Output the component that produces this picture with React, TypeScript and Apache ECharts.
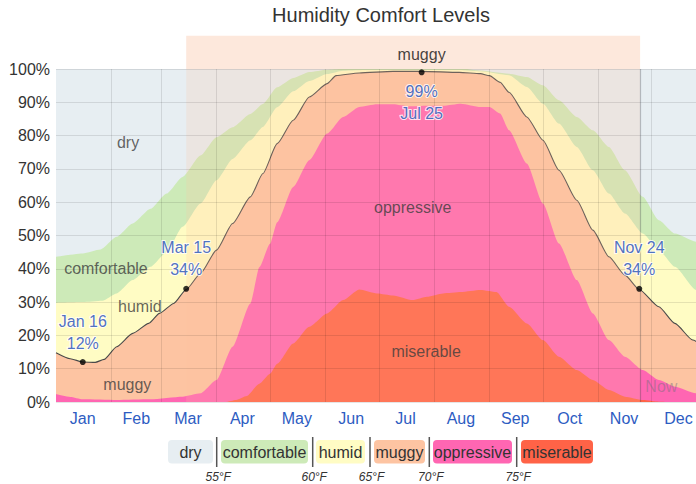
import React, { useEffect, useRef } from 'react';
import * as echarts from 'echarts';

const FONT = '"Liberation Sans", Arial, Helvetica, sans-serif';

const months = ['Jan', 'Feb', 'Mar', 'Apr', 'May', 'Jun', 'Jul', 'Aug', 'Sep', 'Oct', 'Nov', 'Dec'];
const monthStarts = [31, 59, 90, 120, 151, 181, 212, 243, 273, 304, 334];
const monthMids = [15, 45, 74, 104.5, 135, 165.5, 196, 227, 257.5, 288, 318.5, 349];
const yTicks = [0, 10, 20, 30, 40, 50, 60, 70, 80, 90, 100];

// cumulative share of hours (from the bottom) at each day of year
const dryTop: number[][] = [[0, 100], [365, 100]];
const comfortableTop: number[][] = [
  [0, 43.6], [15, 44.6], [25, 45.8], [34, 49.6], [43, 53.6], [53, 58], [62, 62.6], [71, 67.6],
  [81, 74], [90, 79.5], [99, 82.5], [109, 86.5], [116, 89.5], [124, 94.5], [133, 97.3],
  [142, 99.1], [152, 99.8], [160, 100], [230, 100], [236, 99.6], [254, 98.6], [264, 97.6],
  [273, 95.1], [282, 90.6], [292, 85.6], [301, 81.6], [310, 76.6], [319, 69.6], [329, 61.6],
  [338, 54.6], [347, 50.6], [359, 48.1], [365, 46],
];
const humidTop: number[][] = [
  [0, 29.8], [15, 30], [26, 30.4], [34, 32.6], [43, 36.6], [53, 40.6], [62, 45], [71, 52.6],
  [81, 59.6], [90, 66.6], [99, 73], [109, 78.6], [116, 82.6], [124, 88.5], [133, 93.3],
  [142, 96.4], [152, 98.5], [161, 99.5], [175, 99.7], [226, 99.7], [238, 99.3], [254, 98.1],
  [264, 94.6], [273, 89.6], [282, 83.6], [292, 76.6], [301, 69.6], [310, 62.6], [319, 56.6],
  [329, 50.6], [338, 45.6], [347, 40.6], [359, 33.6], [365, 31],
];
const muggyTop: number[][] = [
  [0, 14.8], [8, 13], [15, 12], [22, 11.9], [27, 12.8], [34, 16.6], [43, 20.6], [52, 23.6],
  [58, 26.6], [66, 29.6], [73, 33.8], [81, 38.6], [90, 45.6], [99, 53.6], [109, 61.6],
  [116, 68.6], [124, 77.6], [133, 84.6], [142, 91.6], [152, 95.6], [157, 98], [170, 98.8],
  [189, 99.3], [205, 99.3], [226, 99], [238, 98.6], [243, 98], [249, 96], [254, 93],
  [264, 85.6], [273, 78.6], [282, 69.6], [292, 60.6], [301, 51.6], [310, 43.6], [319, 38.1],
  [327, 33.8], [338, 28.6], [347, 23.6], [357, 18.6], [365, 15.5],
];
const oppressiveTop: number[][] = [
  [0, 2.4], [8, 1.5], [15, 0.8], [34, 0.6], [53, 0.8], [71, 1.6], [81, 2.6], [90, 6.6],
  [99, 16.6], [109, 29.6], [114, 40.5], [120, 47.5], [124, 54], [133, 64.6], [142, 72.6],
  [152, 80.6], [161, 85.6], [170, 88.6], [180, 89.4], [189, 89.4], [198, 88.8], [208, 89],
  [217, 89], [227, 89.6], [238, 88.6], [243, 88.6], [249, 86.6], [254, 81.6], [264, 71.6],
  [273, 59.6], [282, 47.6], [292, 36.6], [301, 26.6], [310, 18.6], [319, 13.6], [329, 9.6],
  [338, 6.6], [347, 4.6], [359, 2.6], [365, 2.4],
];
const miserableTop: number[][] = [
  [0, 0], [95, 0], [101, 0.6], [107, 1.8], [114, 5.5], [120, 8.5], [124, 11.5], [133, 17.6],
  [142, 22.6], [152, 26.6], [161, 30.6], [170, 33.8], [180, 32.6], [189, 32], [200, 30.6],
  [208, 31.6], [217, 32.6], [227, 33], [238, 33.6], [247, 33], [254, 28.6], [264, 23.6],
  [273, 18.6], [282, 13.6], [292, 9.6], [301, 6.6], [310, 3.6], [319, 1.6], [329, 0.6],
  [338, 0.1], [345, 0], [365, 0],
];

const muggyPeriod = [73, 327.5];
const nowDay = 327.5;

const annotations = [
  { day: 15, value: 12, date: 'Jan 16', below: false },
  { day: 73, value: 34, date: 'Mar 15', below: false },
  { day: 205, value: 99, date: 'Jul 25', below: true },
  { day: 327, value: 34, date: 'Nov 24', below: false },
];

const bandLabels = [
  { text: 'dry', day: 40.4, value: 77.8 },
  { text: 'comfortable', day: 28, value: 40 },
  { text: 'humid', day: 47, value: 28.8 },
  { text: 'muggy', day: 40, value: 5.4 },
  { text: 'oppressive', day: 200, value: 58.3 },
  { text: 'miserable', day: 207.5, value: 15.3 },
];
const periodLabel = { text: 'muggy', day: 205, value: 104.3 };
const nowLabel = { text: 'Now', day: 339.4, value: 4.8 };

const legendNames = ['dry', 'comfortable', 'humid', 'muggy', 'oppressive', 'miserable'];
const legendColors = ['#e7eef2', '#cdeab8', '#fffcc4', '#fdc4a2', '#ff66b2', '#ff6347'];
const tempLabels = ['55°F', '60°F', '65°F', '70°F', '75°F'];

// legend layout (pixels)
const legendBoxX = [168, 221, 316, 374, 433, 521];
const legendBoxW = [45, 87, 49, 51, 79, 72];
const legendSepX = [216.7, 312.7, 370, 429.3, 516.7];

function areaSeries(name: string, data: number[][], color: string, line?: string) {
  return {
    name,
    type: 'line',
    data,
    smooth: 0.2,
    smoothMonotone: 'x',
    symbol: 'none',
    silent: true,
    z: 2,
    lineStyle: line ? { color: line, width: 1.1 } : { width: 0 },
    areaStyle: { color, opacity: 1 },
  };
}

export default function App() {
  const ref = useRef<HTMLDivElement>(null);
  useEffect(() => {
    if (!ref.current) return;
    const chart = echarts.init(ref.current, undefined, { renderer: 'svg' });

    const graphic: any[] = [];
    legendNames.forEach((n, i) => {
      graphic.push({
        type: 'rect',
        shape: { x: legendBoxX[i], y: 440, width: legendBoxW[i], height: 23.5, r: 4 },
        style: { fill: legendColors[i] },
      });
      graphic.push({
        type: 'text',
        x: legendBoxX[i] + legendBoxW[i] / 2,
        y: 452,
        style: {
          text: n, fill: '#333', font: `16px ${FONT}`, align: 'center', verticalAlign: 'middle',
        },
      });
    });
    legendSepX.forEach((x, i) => {
      graphic.push({
        type: 'line',
        shape: { x1: x, y1: 437, x2: x, y2: 467 },
        style: { stroke: '#555', lineWidth: 1.5 },
      });
      graphic.push({
        type: 'text',
        x: x + 1.5,
        y: 477,
        style: {
          text: tempLabels[i], fill: '#333', font: `italic 12px ${FONT}`, align: 'center', verticalAlign: 'middle',
        },
      });
    });

    const option: any = {
      animation: false,
      title: {
        text: 'Humidity Comfort Levels',
        left: 381,
        top: 5,
        padding: 0,
        textAlign: 'center',
        textStyle: { fontSize: 20, fontWeight: 'normal', color: '#333', fontFamily: FONT },
      },
      grid: {
        left: 56, width: 651, top: 35.7, bottom: 82,
        containLabel: false, outerBoundsMode: 'none',
      },
      xAxis: {
        type: 'value',
        min: 0,
        max: 365,
        axisLine: { show: false },
        axisTick: { show: false },
        splitLine: { show: false },
        axisLabel: {
          customValues: monthMids,
          formatter: (v: number) => months[monthMids.indexOf(v)] ?? '',
          color: '#2d5cc2',
          fontSize: 16,
          fontFamily: FONT,
          margin: 8,
        },
      },
      yAxis: {
        type: 'value',
        min: 0,
        max: 110,
        interval: 10,
        axisLine: { show: false },
        axisTick: { show: false },
        splitLine: { show: false },
        axisLabel: {
          formatter: (v: number) => (v <= 100 ? `${v}%` : ''),
          color: '#333',
          fontSize: 16,
          fontFamily: FONT,
          margin: 6,
        },
      },
      graphic,
      series: [
        areaSeries('dry', dryTop, legendColors[0]),
        areaSeries('comfortable', comfortableTop, legendColors[1]),
        areaSeries('humid', humidTop, legendColors[2]),
        areaSeries('muggy', muggyTop, legendColors[3], '#4a4a4a'),
        areaSeries('oppressive', oppressiveTop, legendColors[4]),
        areaSeries('miserable', miserableTop, legendColors[5]),
        {
          type: 'line',
          data: [],
          z: 3,
          silent: true,
          markArea: {
            z: 3,
            silent: true,
            label: { show: false },
            data: [
              [
                { coord: [muggyPeriod[0], 0], itemStyle: { color: 'rgba(253,195,161,0.2)' } },
                { coord: [muggyPeriod[1], 100] },
              ],
              [
                { coord: [muggyPeriod[0], 100], itemStyle: { color: '#fde8dc' } },
                { coord: [muggyPeriod[1], 110] },
              ],
            ],
          },
        },
        {
          type: 'line',
          data: [],
          z: 4,
          silent: true,
          markLine: {
            z: 4,
            silent: true,
            symbol: 'none',
            label: { show: false },
            lineStyle: { color: 'rgba(0,0,0,0.1)', width: 1, type: 'solid' },
            data: [
              ...monthStarts.map((d) => [{ coord: [d, 0] }, { coord: [d, 100] }]),
              ...yTicks.map((v) => [{ coord: [0, v] }, { coord: [365, v] }]),
              [
                { coord: [nowDay, 0], lineStyle: { color: 'rgba(60,60,70,0.3)', width: 1.2 } },
                { coord: [nowDay, 100] },
              ],
            ],
          },
        },
        {
          type: 'scatter',
          z: 5,
          silent: true,
          symbolSize: 1,
          itemStyle: { color: 'rgba(0,0,0,0)' },
          data: [
            ...bandLabels.map((b) => ({
              value: [b.day, b.value],
              label: { formatter: b.text },
            })),
            {
              value: [periodLabel.day, periodLabel.value],
              label: { formatter: periodLabel.text, color: '#111' },
            },
            {
              value: [nowLabel.day, nowLabel.value],
              label: { formatter: nowLabel.text, color: 'rgba(110,110,120,0.55)' },
            },
          ],
          label: {
            show: true,
            position: 'inside',
            color: '#3d3d3d',
            fontSize: 16,
            fontFamily: FONT,
          },
        },
        {
          type: 'scatter',
          z: 6,
          silent: true,
          symbolSize: 6,
          itemStyle: { color: '#000' },
          data: annotations.map((a) => ({
            value: [a.day, a.value],
            label: {
              position: a.below ? 'bottom' : 'top',
              formatter: a.below ? `${a.value}%\n${a.date}` : `${a.date}\n${a.value}%`,
            },
          })),
          label: {
            show: true,
            color: '#1f4db3',
            fontSize: 16,
            fontFamily: FONT,
            lineHeight: 22,
            distance: 5,
            textBorderColor: '#fff',
            textBorderWidth: 2,
          },
        },
      ],
    };
    chart.setOption(option);
    return () => chart.dispose();
  }, []);
  return <div ref={ref} style={{ position: 'absolute', left: 0, top: 0, width: 696, height: 484 }} />;
}
